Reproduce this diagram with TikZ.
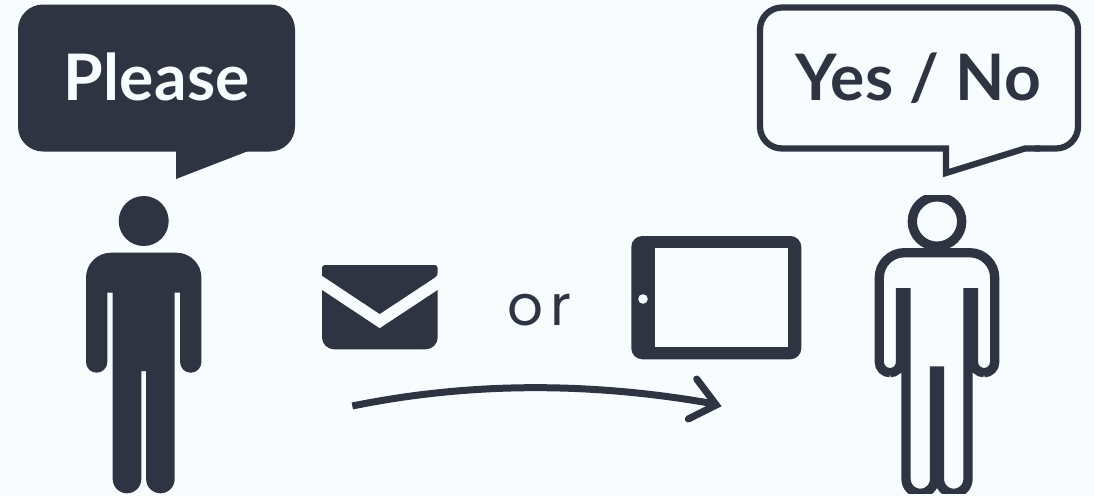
\documentclass[tikz,border=0pt]{standalone}
\usepackage{fontspec}
\setmainfont{Poppins}
\newfontfamily\capfont[LetterSpace=0.6]{Lato}
\usetikzlibrary{
    arrows.meta,
    positioning
}
\definecolor{InkSlate}{RGB}{46,52,66}
\definecolor{PaleSky}{RGB}{248,252,255}
\tikzset{
  solid shape/.style = {fill=InkSlate, draw=none},
  line shape/.style  = {draw=InkSlate, line join=miter},
  caption/.style     = {anchor=base, inner sep=0pt, font=\capfont\fontsize{36.5}{40}\selectfont\bfseries},
  flow/.style        = {draw=InkSlate, line width=1.4mm}
}
\newcommand{\manoutline}{
  [rounded corners=5mm] (0,252.7) -- (-57.7,252.7) -- (-57.7,320)
  [rounded corners=2.13mm] -- (-57.7,372.7) -- (-36.4,372.7) -- (-36.4,330)
  [sharp corners] -- (-36.4,292.7) -- (-31,292.7) -- (-31,400)
  [rounded corners=2.86mm] -- (-31,493.3) -- (-2.4,493.3) -- (-2.4,420)
  [sharp corners] -- (-2.4,371) -- (2.4,371) -- (2.4,420)
  [rounded corners=2.86mm] -- (2.4,493.3) -- (31,493.3) -- (31,400)
  [sharp corners] -- (31,292.7) -- (36.4,292.7) -- (36.4,330)
  [rounded corners=2.13mm] -- (36.4,372.7) -- (57.7,372.7) -- (57.7,320)
  [rounded corners=5mm] -- (57.7,252.7) -- cycle
}

\begin{document}
\begin{tikzpicture}[x=0.2mm,y=-0.2mm]
\useasboundingbox (0,0) rectangle (1094,497);
\fill[PaleSky] (0,0) rectangle (1094,497);

\fill[solid shape, rounded corners=5mm] (18,4.5) -- (295,4.5) -- (295,151.5) -- (18,151.5) -- cycle;
\fill[solid shape] (176,150) -- (176,179) -- (247,151.5) -- (247,150) -- cycle;
\node[caption, text=PaleSky] (please) at (156.5,100.5) {Please};

\draw[line shape, line width=1.25mm, rounded corners=4.4mm]
  (1035,148.5) -- (1078,148.5) -- (1078,7.5) -- (760,7.5) -- (760,148.5) -- (943,148.5);
\draw[line shape, line width=1.25mm] (946,145.4) -- (946,173) -- (1025,148.5) -- (1040,148.5);
\node[caption, text=InkSlate] (answer) at (918.5,100.5) {Yes / No};

\begin{scope}[shift={(143.7,0)}]
\fill[solid shape] (0,221) circle (25);
\fill[solid shape] \manoutline;
\end{scope}

\begin{scope}
\clip (860,195) rectangle (1015,493);
\begin{scope}[shift={(937,0)}]
\draw[line shape, line width=1.86mm] (0,221.5) circle (24.7);
\draw[line shape, line width=1.86mm, fill=PaleSky] \manoutline;
\end{scope}
\end{scope}

\fill[solid shape, rounded corners=0.6mm] (322,275.7) -- (322,265) -- (437.7,265) -- (437.7,275.7) [sharp corners] -- (379.7,314) -- cycle;
\fill[solid shape] (322,290) -- (379.7,328.3) -- (437.7,290) [rounded corners=2.4mm] -- (437.7,349.3) -- (322,349.3) [sharp corners] -- cycle;

\fill[solid shape, rounded corners=2.2mm] (631.3,236) rectangle (801.3,359.3);
\fill[PaleSky] (654.7,248.3) rectangle (788.3,347.3);
\fill[PaleSky] (643,299) circle (4.8);

\node[anchor=base, inner sep=0pt, text=InkSlate, font=\fontsize{32}{36}\selectfont] (orword) at (539.5,325) {o\hspace{4.5pt}r};

\coordinate (flowstart) at (352.3,406);
\coordinate (flowend) at (712,403.5);
\coordinate (flowtip) at (716.3,405);
\coordinate (flowbarbup) at (696.7,379);
\coordinate (flowbarbdown) at (688.3,419);
\draw[flow] (flowstart) .. controls (470,382) and (590,382) .. (flowend);
\draw[flow, line cap=round, line join=miter] (flowbarbup) -- (flowtip) -- (flowbarbdown);
\end{tikzpicture}
\end{document}
